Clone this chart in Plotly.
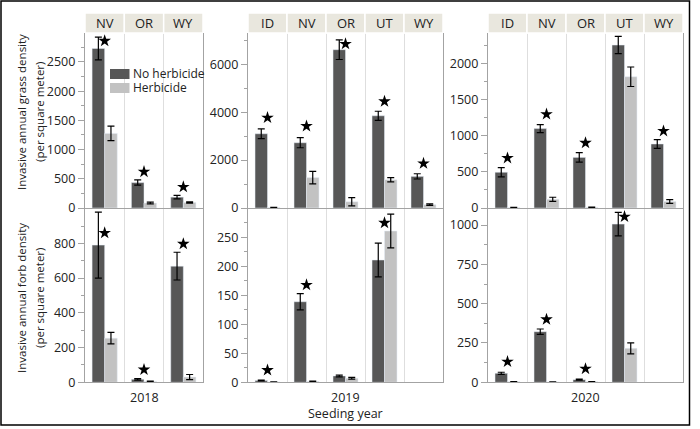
import plotly.graph_objects as go

# ---------------- data ----------------
years = ["2018", "2019", "2020"]
states_2018 = ["NV", "OR", "WY"]
states_2019 = ["ID", "NV", "OR", "UT", "WY"]
states_2020 = ["ID", "NV", "OR", "UT", "WY"]

# Invasive annual grass density (per square meter)
grass_no_2018 = [2730, 435, 186]
grass_no_err_2018 = [195, 45, 30]
grass_herb_2018 = [1277, 85, 95]
grass_herb_err_2018 = [125, 15, 10]
grass_star_2018 = [2860, 620, 360]

grass_no_2019 = [3100, 2725, 6610, 3850, 1320]
grass_no_err_2019 = [200, 210, 410, 190, 110]
grass_herb_2019 = [20, 1270, 260, 1180, 140]
grass_herb_err_2019 = [10, 260, 170, 90, 30]
grass_star_2019 = [3770, 3420, 6850, 4450, 1860]

grass_no_2020 = [495, 1100, 701, 2257, 887]
grass_no_err_2020 = [63, 55, 65, 120, 60]
grass_herb_2020 = [5, 121, 8, 1818, 90]
grass_herb_err_2020 = [3, 28, 4, 135, 25]
grass_star_2020 = [692, 1299, 902, None, 1066]

# Invasive annual forb density (per square meter)
forb_no_2018 = [790, 17, 669]
forb_no_err_2018 = [190, 4, 80]
forb_herb_2018 = [254, 5, 30]
forb_herb_err_2018 = [33, 2, 15]
forb_star_2018 = [860, 73, 797]

forb_no_2019 = [3, 139, 11, 211, None]
forb_no_err_2019 = [0.7, 14, 1.5, 29, None]
forb_herb_2019 = [0.5, 1.5, 7, 261, None]
forb_herb_err_2019 = [0.2, 0.4, 1.5, 29, None]
forb_star_2019 = [21, 168, None, 275, None]

forb_no_2020 = [57, 322, 17, 1006, None]
forb_no_err_2020 = [7, 17, 3, 75, None]
forb_herb_2020 = [3, 2, 3, 216, None]
forb_herb_err_2020 = [1, 1, 1, 35, None]
forb_star_2020 = [131, 400, 86, 1053, None]

# ---------------- styling ----------------
W, H = 700, 429
FONT = "Open Sans"
DARK = "#575757"
LIGHT = "#c2c2c2"
AXIS = "#a3a3a3"
GRID = "#dedede"
STRIP = "#e9e7de"
TXT = "#222222"

def px(x):
    return x / W

def py(y):
    return 1 - y / H

panels_x = [(85, 203), (248, 443), (488, 683)]
rows_y = [(33, 208), (209, 382.3)]
yranges = [[2995, 7307, 2424], [998, 299, 1102]]
dticks = [[500, 2000, 500], [200, 50, 250]]
minors = [[250, 1000, 250], [100, 25, 125]]

states = [states_2018, states_2019, states_2020]
panel_data = [
    [
        (grass_no_2018, grass_no_err_2018, grass_herb_2018, grass_herb_err_2018, grass_star_2018),
        (grass_no_2019, grass_no_err_2019, grass_herb_2019, grass_herb_err_2019, grass_star_2019),
        (grass_no_2020, grass_no_err_2020, grass_herb_2020, grass_herb_err_2020, grass_star_2020),
    ],
    [
        (forb_no_2018, forb_no_err_2018, forb_herb_2018, forb_herb_err_2018, forb_star_2018),
        (forb_no_2019, forb_no_err_2019, forb_herb_2019, forb_herb_err_2019, forb_star_2019),
        (forb_no_2020, forb_no_err_2020, forb_herb_2020, forb_herb_err_2020, forb_star_2020),
    ],
]

fig = go.Figure()
layout = {}
shapes = []
annotations = []

def note(x, y, text, size, xref="paper", yref="paper", angle=0, xanchor="center"):
    return dict(x=x, y=y, xref=xref, yref=yref, text=text, textangle=angle,
                xanchor=xanchor, yanchor="middle", showarrow=False,
                font=dict(family=FONT, size=size, color=TXT))

for r in range(2):
    for p in range(3):
        k = r * 3 + p + 1
        xa = "x" if k == 1 else f"x{k}"
        ya = "y" if k == 1 else f"y{k}"
        cats = states[p]
        no, no_e, hb, hb_e, st = panel_data[r][p]
        err_style = dict(type="data", visible=True, color="black", thickness=1.2, width=3.5)
        fig.add_trace(go.Bar(
            x=cats, y=no, name="No herbicide", marker_color=DARK,
            error_y=dict(array=no_e, **err_style), xaxis=xa, yaxis=ya,
            offsetgroup="a", showlegend=False))
        fig.add_trace(go.Bar(
            x=cats, y=hb, name="Herbicide", marker_color=LIGHT,
            error_y=dict(array=hb_e, **err_style), xaxis=xa, yaxis=ya,
            offsetgroup="b", showlegend=False))
        fig.add_trace(go.Scatter(
            x=cats, y=st, mode="markers", marker=dict(symbol="star", size=9.5, color="black"),
            xaxis=xa, yaxis=ya, showlegend=False, hoverinfo="skip"))

        x0, x1 = panels_x[p]
        y0, y1 = rows_y[r]
        layout["xaxis" if k == 1 else f"xaxis{k}"] = dict(
            domain=[px(x0), px(x1)], anchor=ya, type="category",
            categoryorder="array", categoryarray=cats,
            range=[-0.5, len(cats) - 0.5], tickson="boundaries",
            showgrid=True, gridcolor=GRID, gridwidth=1.2,
            showticklabels=False, ticks="", showline=True, linecolor=AXIS, linewidth=1.2,
            fixedrange=True, automargin=False,
        )
        layout["yaxis" if k == 1 else f"yaxis{k}"] = dict(
            domain=[py(y1), py(y0)], anchor=xa, range=[0, yranges[r][p]],
            dtick=dticks[r][p], tick0=0, showgrid=False, zeroline=False,
            showline=True, linecolor=AXIS, linewidth=1.2, mirror=True,
            ticks="outside", ticklen=6, tickcolor=AXIS, tickwidth=1,
            minor=dict(dtick=minors[r][p], ticklen=3, tickcolor=AXIS, ticks="outside", showgrid=False),
            tickfont=dict(family=FONT, size=12.5, color=TXT),
            fixedrange=True, automargin=False,
        )
        if r == 0:
            for i, c in enumerate(cats):
                shapes.append(dict(type="rect", xref=xa, yref="paper",
                                   x0=i - 0.5, x1=i + 0.5, y0=py(33), y1=py(13),
                                   fillcolor=STRIP, line=dict(color="white", width=1.5), layer="above"))
                annotations.append(note(c, py(23), c, 13, xref=xa))
        else:
            annotations.append(note(px((x0 + x1) / 2), py(397.5), years[p], 12.5))

annotations.append(note(px(345), py(413.5), "Seeding year", 12.5))
for yc, t in [(112, "Invasive annual grass density"), (298, "Invasive annual forb density")]:
    annotations.append(note(px(21), py(yc), t, 11.5, angle=-90))
    annotations.append(note(px(39), py(yc), "(per square meter)", 11.5, angle=-90))

# legend (drawn manually)
for (ly, label, col) in [(74, "No herbicide", DARK), (88, "Herbicide", LIGHT)]:
    shapes.append(dict(type="rect", xref="paper", yref="paper", x0=px(110), x1=px(129.5),
                       y0=py(ly + 5), y1=py(ly - 5), fillcolor=col, line=dict(width=0)))
    annotations.append(note(px(131), py(ly), label, 12, xanchor="left"))

# outer frame
shapes.append(dict(type="rect", xref="paper", yref="paper", x0=px(1), x1=px(689.5),
                   y0=py(425), y1=py(1), line=dict(color="black", width=1.5),
                   fillcolor="rgba(0,0,0,0)"))

fig.update_layout(
    width=W, height=H, margin=dict(l=0, r=0, t=0, b=0, autoexpand=False),
    paper_bgcolor="white", plot_bgcolor="white",
    barmode="group", bargap=0.36, bargroupgap=0,
    showlegend=False, shapes=shapes, annotations=annotations,
    font=dict(family=FONT, color=TXT),
    **layout,
)

fig.write_html("out.html", config={"displayModeBar": False},
               post_script="document.body.style.margin='0';")
